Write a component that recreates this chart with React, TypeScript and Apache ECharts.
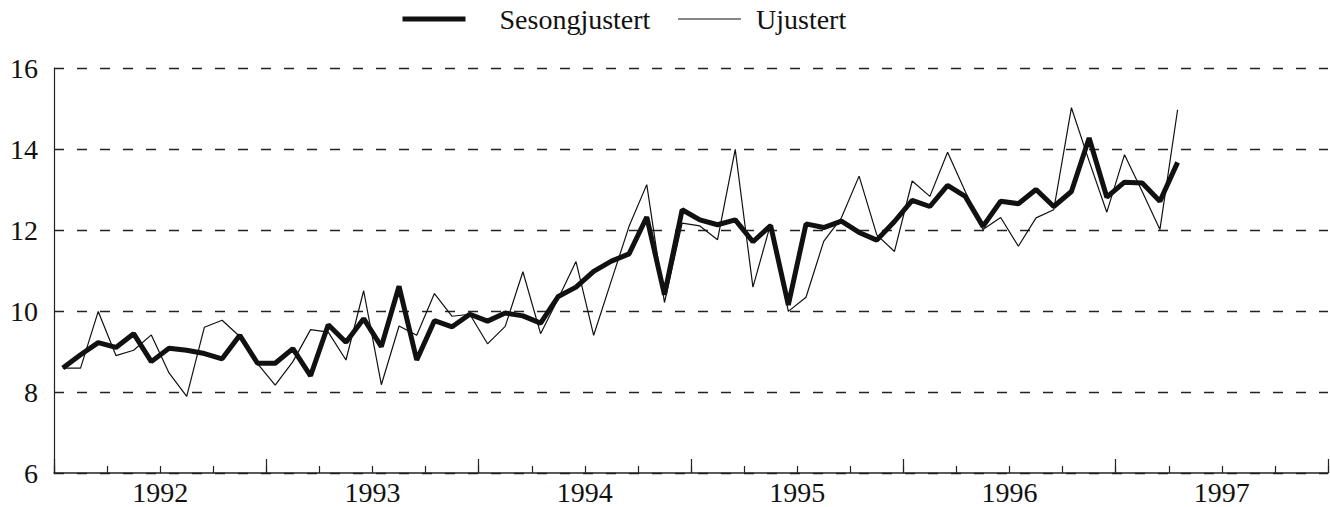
import React, { useEffect, useRef } from "react";
import * as echarts from "echarts";

const years = ["1992", "1993", "1994", "1995", "1996", "1997"];
const months: string[] = [];
for (const y of years) {
  for (let m = 1; m <= 12; m++) months.push(`${y}-${m < 10 ? "0" + m : m}`);
}

const seasonallyAdjusted = [
  8.59, 8.92, 9.22, 9.10, 9.44, 8.75, 9.08, 9.03, 8.95, 8.82, 9.40, 8.71,
  8.71, 9.07, 8.40, 9.66, 9.23, 9.81, 9.12, 10.61, 8.79, 9.76, 9.61, 9.92,
  9.75, 9.95, 9.88, 9.70, 10.36, 10.59, 10.98, 11.23, 11.41, 12.32, 10.40, 12.50,
  12.25, 12.13, 12.25, 11.71, 12.11, 10.15, 12.15, 12.06, 12.22, 11.94, 11.75, 12.21,
  12.73, 12.58, 13.10, 12.83, 12.09, 12.71, 12.65, 13.00, 12.58, 12.95, 14.27, 12.81,
  13.18, 13.16, 12.71, 13.67,
];

const unadjusted = [
  8.59, 8.59, 9.99, 8.90, 9.03, 9.41, 8.47, 7.89, 9.60, 9.77, 9.37, 8.70,
  8.17, 8.75, 9.54, 9.48, 8.79, 10.50, 8.18, 9.63, 9.40, 10.43, 9.87, 9.92,
  9.19, 9.62, 10.97, 9.44, 10.31, 11.22, 9.40, 10.75, 12.09, 13.12, 10.21, 12.17,
  12.10, 11.76, 13.99, 10.59, 12.15, 9.99, 10.34, 11.72, 12.30, 13.33, 11.88, 11.47,
  13.21, 12.83, 13.92, 12.95, 12.01, 12.31, 11.60, 12.30, 12.50, 15.02, 13.70, 12.44,
  13.86, 12.95, 12.01, 14.97,
];

const seriesNames = ["Sesongjustert", "Ujustert"];
const FONT = "Times New Roman, Liberation Serif, DejaVu Serif, serif";
const INK = "#111";

export default function App() {
  const ref = useRef<HTMLDivElement>(null);
  useEffect(() => {
    if (!ref.current) return;
    const chart = echarts.init(ref.current, undefined, { renderer: "svg" });
    chart.setOption({
      animation: false,
      backgroundColor: "#ffffff",
      textStyle: { fontFamily: FONT },
      legend: {
        data: [
          {
            name: seriesNames[0],
            lineStyle: { width: 5, color: INK },
            textStyle: { fontFamily: FONT, fontSize: 28, color: INK, padding: [0, 0, 0, 29] },
          },
          {
            name: seriesNames[1],
            lineStyle: { width: 1.2, color: INK },
            textStyle: { fontFamily: FONT, fontSize: 28, color: INK, padding: [0, 0, 0, 10] },
          },
        ],
        left: 400,
        top: 5,
        padding: 0,
        itemWidth: 63,
        itemHeight: 14,
        itemGap: 27,
        itemStyle: { opacity: 0 },
        textStyle: { fontFamily: FONT, fontSize: 28, color: INK },
      },
      grid: { left: 54, right: 2, top: 68, bottom: 34, containLabel: false },
      xAxis: [
        {
          type: "category",
          data: months,
          boundaryGap: true,
          axisLine: { show: true, lineStyle: { color: "#222", width: 1.5 } },
          axisTick: { show: true, interval: 2, length: 7, inside: true, lineStyle: { color: "#222", width: 1.2 } },
          axisLabel: { show: false },
          splitLine: { show: false },
        },
        {
          type: "category",
          data: years,
          position: "bottom",
          boundaryGap: true,
          axisLine: { show: false },
          axisTick: { show: true, interval: 0, length: 14, inside: true, lineStyle: { color: "#222", width: 1.2 } },
          axisLabel: { show: true, fontFamily: FONT, fontSize: 28, color: INK, margin: 5 },
          splitLine: { show: false },
        },
      ],
      yAxis: {
        type: "value",
        min: 6,
        max: 16,
        interval: 2,
        axisLine: { show: true, lineStyle: { color: "#222", width: 1.2 } },
        axisTick: { show: false },
        axisLabel: { fontFamily: FONT, fontSize: 28, color: INK, margin: 16 },
        splitLine: { show: true, lineStyle: { color: "#222", width: 1.3, type: [10, 13] } },
      },
      series: [
        {
          name: seriesNames[1],
          type: "line",
          xAxisIndex: 0,
          data: unadjusted,
          symbol: "none",
          itemStyle: { color: INK },
          lineStyle: { color: INK, width: 1.2 },
          z: 2,
        },
        {
          name: seriesNames[0],
          type: "line",
          xAxisIndex: 0,
          data: seasonallyAdjusted,
          symbol: "none",
          itemStyle: { color: INK },
          lineStyle: { color: INK, width: 5 },
          z: 3,
        },
      ],
    });
    return () => chart.dispose();
  }, []);
  return (
    <div
      ref={ref}
      style={{ position: "fixed", left: 0, top: 0, width: 1330, height: 507, background: "#fff" }}
    />
  );
}
